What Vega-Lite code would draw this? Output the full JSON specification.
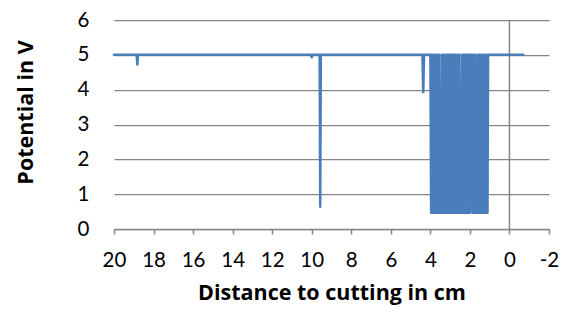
{
  "$schema": "https://vega.github.io/schema/vega-lite/v6.json",
  "autosize": "none",
  "width": 435,
  "height": 209,
  "padding": {"left": 114, "top": 20, "right": 19, "bottom": 92},
  "background": "white",
  "config": {
    "view": {"stroke": null},
    "font": "Lato",
    "axis": {"labelFont": "Lato", "titleFont": "Open Sans", "labelColor": "black", "titleColor": "black"}
  },
  "layer": [
    {
      "data": {"values": [{"d": 0}]},
      "mark": {"type": "rule", "color": "#868686", "strokeWidth": 1.5},
      "encoding": {"x": {"field": "d", "type": "quantitative", "scale": {"domain": [-2, 20], "reverse": true, "nice": false},
        "axis": {
            "title": "Distance to cutting in cm",
            "values": [-2, 0, 2, 4, 6, 8, 10, 12, 14, 16, 18, 20],
            "labelExpr": "'' + datum.value",
            "labelOverlap": false, "labelFlush": false,
            "grid": false,
            "domainColor": "#868686", "domainWidth": 1.5,
            "tickColor": "#868686", "tickSize": 5, "tickWidth": 1.5,
            "labelFontSize": 20.5, "labelPadding": 16,
            "titleFontSize": 21.5, "titleFontWeight": "bold", "titlePadding": 12
        }}}
    },
    {
      "data": {"values": [
        {"d": 20, "v": 5}, {"d": 18.85, "v": 5}, {"d": 18.82, "v": 4.72}, {"d": 18.79, "v": 5},
        {"d": 10.05, "v": 5}, {"d": 10.0, "v": 4.93}, {"d": 9.95, "v": 5},
        {"d": 9.6, "v": 5}, {"d": 9.57, "v": 0.64}, {"d": 9.54, "v": 5},
        {"d": 4.4, "v": 5}, {"d": 4.36, "v": 3.93}, {"d": 4.32, "v": 5}, {"d": 4.0, "v": 5},
        {"d": 3.96, "v": 0.47}, {"d": 3.93, "v": 5}, {"d": 3.90, "v": 0.47}, {"d": 3.87, "v": 5},
        {"d": 3.84, "v": 0.47}, {"d": 3.81, "v": 5}, {"d": 3.78, "v": 0.47}, {"d": 3.75, "v": 5},
        {"d": 3.72, "v": 0.47}, {"d": 3.69, "v": 5}, {"d": 3.66, "v": 0.47}, {"d": 3.63, "v": 5},
        {"d": 3.60, "v": 0.47}, {"d": 3.57, "v": 5}, {"d": 3.54, "v": 0.47},
        {"d": 3.46, "v": 0.47}, {"d": 3.43, "v": 5}, {"d": 3.40, "v": 0.47}, {"d": 3.37, "v": 5},
        {"d": 3.34, "v": 0.47}, {"d": 3.31, "v": 5}, {"d": 3.28, "v": 0.47}, {"d": 3.25, "v": 5},
        {"d": 3.22, "v": 0.47}, {"d": 3.19, "v": 5}, {"d": 3.16, "v": 0.47}, {"d": 3.13, "v": 5},
        {"d": 3.10, "v": 0.47}, {"d": 3.07, "v": 5}, {"d": 3.04, "v": 0.47}, {"d": 3.01, "v": 5},
        {"d": 2.98, "v": 0.47}, {"d": 2.95, "v": 5}, {"d": 2.92, "v": 0.47}, {"d": 2.89, "v": 5},
        {"d": 2.86, "v": 0.47}, {"d": 2.83, "v": 5}, {"d": 2.80, "v": 0.47}, {"d": 2.77, "v": 5},
        {"d": 2.74, "v": 0.47}, {"d": 2.71, "v": 5}, {"d": 2.68, "v": 0.47}, {"d": 2.65, "v": 5},
        {"d": 2.62, "v": 0.47}, {"d": 2.59, "v": 5}, {"d": 2.56, "v": 0.47}, {"d": 2.53, "v": 5},
        {"d": 2.50, "v": 0.47},
        {"d": 2.42, "v": 0.47}, {"d": 2.39, "v": 5}, {"d": 2.36, "v": 0.47}, {"d": 2.33, "v": 5},
        {"d": 2.30, "v": 0.47}, {"d": 2.27, "v": 5}, {"d": 2.24, "v": 0.47}, {"d": 2.21, "v": 5},
        {"d": 2.18, "v": 0.47}, {"d": 2.15, "v": 5}, {"d": 2.12, "v": 0.47}, {"d": 2.09, "v": 5},
        {"d": 2.06, "v": 0.47}, {"d": 2.03, "v": 5}, {"d": 2.00, "v": 0.47}, {"d": 1.97, "v": 5},
        {"d": 1.90, "v": 5}, {"d": 1.87, "v": 0.47}, {"d": 1.84, "v": 5}, {"d": 1.81, "v": 0.47},
        {"d": 1.78, "v": 5}, {"d": 1.75, "v": 0.47}, {"d": 1.72, "v": 5}, {"d": 1.69, "v": 0.47},
        {"d": 1.62, "v": 0.47}, {"d": 1.59, "v": 5}, {"d": 1.56, "v": 0.47}, {"d": 1.53, "v": 5},
        {"d": 1.50, "v": 0.47}, {"d": 1.47, "v": 5}, {"d": 1.44, "v": 0.47}, {"d": 1.41, "v": 5},
        {"d": 1.38, "v": 0.47}, {"d": 1.35, "v": 5}, {"d": 1.32, "v": 0.47}, {"d": 1.29, "v": 5},
        {"d": 1.26, "v": 0.47}, {"d": 1.23, "v": 5}, {"d": 1.20, "v": 0.47}, {"d": 1.17, "v": 5},
        {"d": 1.14, "v": 0.47}, {"d": 1.11, "v": 0.47},
        {"d": 1.08, "v": 5},
        {"d": -0.7, "v": 5}
      ]},
      "mark": {"type": "line", "color": "#4A7EBB", "strokeWidth": 2.5, "strokeJoin": "round", "strokeCap": "round"},
      "encoding": {
        "x": {
          "field": "d", "type": "quantitative",
          "scale": {"domain": [-2, 20], "reverse": true, "nice": false},
          "axis": {
            "title": "Distance to cutting in cm",
            "values": [-2, 0, 2, 4, 6, 8, 10, 12, 14, 16, 18, 20],
            "labelExpr": "'' + datum.value",
            "labelOverlap": false, "labelFlush": false,
            "grid": false,
            "domainColor": "#868686", "domainWidth": 1.5,
            "tickColor": "#868686", "tickSize": 5, "tickWidth": 1.5,
            "labelFontSize": 20.5, "labelPadding": 16,
            "titleFontSize": 21.5, "titleFontWeight": "bold", "titlePadding": 12
          }
        },
        "y": {
          "field": "v", "type": "quantitative",
          "scale": {"domain": [0, 6], "nice": false},
          "axis": {
            "title": "Potential in V",
            "values": [0, 1, 2, 3, 4, 5, 6],
            "labelOverlap": false, "labelFlush": false,
            "grid": true, "gridColor": "#868686", "gridWidth": 1.25,
            "domain": false, "ticks": false,
            "labelFontSize": 20.5, "labelPadding": 25,
            "titleFontSize": 21.5, "titleFontWeight": "bold", "titlePadding": 40, "titleY": 92
          }
        }
      }
    }
  ]
}
